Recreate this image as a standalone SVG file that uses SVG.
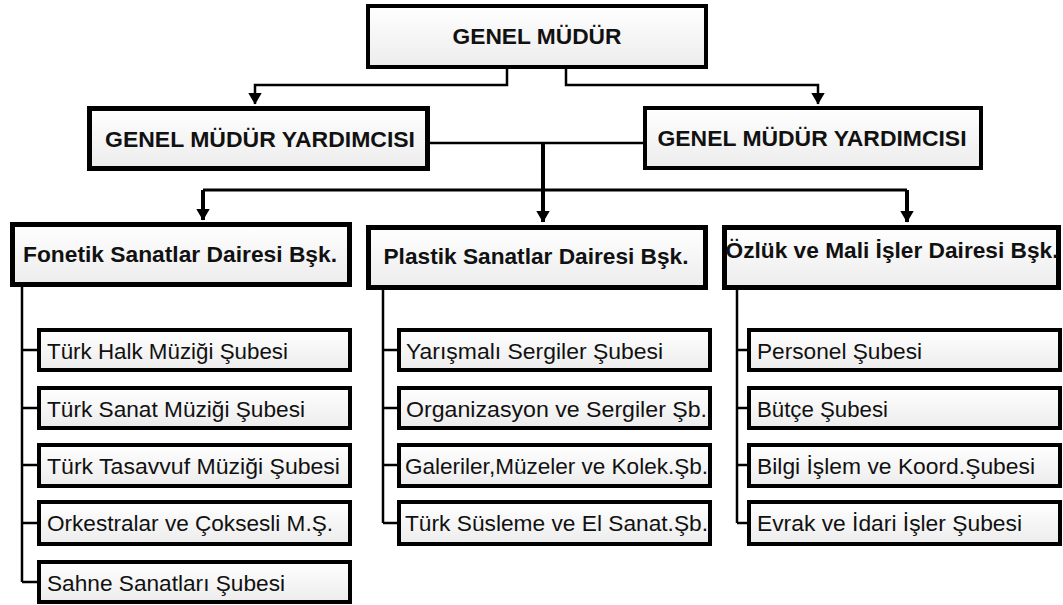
<svg xmlns="http://www.w3.org/2000/svg" width="1063" height="605" viewBox="0 0 1063 605">
<style>
.box{fill:url(#g);stroke:#000;stroke-width:4}
.sub{fill:url(#g);stroke:#000;stroke-width:4}
.h{font-family:"Liberation Sans",Arial,sans-serif;font-weight:bold;font-size:22px;fill:#111;text-anchor:middle}
.t{font-family:"Liberation Sans",Arial,sans-serif;font-size:22px;fill:#111}
.c{fill:none;stroke:#000;stroke-width:2.5}
.ct{fill:none;stroke:#000;stroke-width:4}
</style>
<defs>
<linearGradient id="g" x1="0" y1="0" x2="0" y2="1">
<stop offset="0" stop-color="#ffffff"/>
<stop offset="1" stop-color="#ececec"/>
</linearGradient>
<marker id="ar" markerUnits="userSpaceOnUse" markerWidth="15" markerHeight="12" refX="7.5" refY="11.5" orient="0" viewBox="0 0 15 12">
<path d="M0.5,0 L14.5,0 L7.5,12 Z" fill="#000"/>
</marker>
</defs>
<rect width="1063" height="605" fill="#fff"/>
<g id="connectors">
<path class="c" d="M507,69 V85 H255 V104" marker-end="url(#ar)"/>
<path class="c" d="M566,69 V85 H818 V104" marker-end="url(#ar)"/>
<path class="c" d="M430,143 H643"/>
<path class="ct" d="M543,143 V222" marker-end="url(#ar)"/>
<path class="c" style="stroke-width:3" d="M203,190 H907"/>
<path class="ct" d="M203,190 V220" marker-end="url(#ar)"/>
<path class="ct" d="M907,190 V222" marker-end="url(#ar)"/>
<path class="c" d="M22,287 V582 M22,350 H37 M22,408 H37 M22,465 H37 M22,523 H37 M22,582 H37"/>
<path class="c" d="M383,290 V523 M383,350 H397 M383,408 H397 M383,465 H397 M383,523 H397"/>
<path class="c" d="M737,290 V523 M737,350 H747 M737,408 H747 M737,465 H747 M737,523 H747"/>
</g>
<g id="n-gm"><rect class="box" x="368" y="6" width="338" height="61"/><text class="h" x="537" y="44" textLength="169" lengthAdjust="spacingAndGlyphs">GENEL MÜDÜR</text></g>
<g id="n-gmy1"><rect class="box" style="stroke-width:5" x="89.5" y="108.5" width="338" height="60"/><text class="h" x="260" y="147" textLength="310" lengthAdjust="spacingAndGlyphs">GENEL MÜDÜR YARDIMCISI</text></g>
<g id="n-gmy2"><rect class="box" x="645" y="108" width="336" height="60"/><text class="h" x="812" y="146" textLength="309" lengthAdjust="spacingAndGlyphs">GENEL MÜDÜR YARDIMCISI</text></g>
<g id="n-fonetik"><rect class="box" style="stroke-width:5" x="12.5" y="224.5" width="337" height="60"/><text class="h" x="180" y="262" textLength="314" lengthAdjust="spacingAndGlyphs">Fonetik Sanatlar Dairesi Bşk.</text></g>
<g id="n-plastik"><rect class="box" style="stroke-width:5" x="368.5" y="227.5" width="337" height="60"/><text class="h" x="536" y="264" textLength="305" lengthAdjust="spacingAndGlyphs">Plastik Sanatlar Dairesi Bşk.</text></g>
<g id="n-ozluk"><rect class="box" style="stroke-width:5" x="724.5" y="227.5" width="334" height="60"/><text class="h" x="892" y="258" textLength="333" lengthAdjust="spacingAndGlyphs">Özlük ve Mali İşler Dairesi Bşk.</text></g>
<g id="n-f1"><rect class="sub" x="39" y="330" width="311" height="40"/><text class="t" x="47" y="359" textLength="241" lengthAdjust="spacingAndGlyphs">Türk Halk Müziği Şubesi</text></g>
<g id="n-f2"><rect class="sub" x="39" y="388" width="311" height="40"/><text class="t" x="47" y="417" textLength="258" lengthAdjust="spacingAndGlyphs">Türk Sanat Müziği Şubesi</text></g>
<g id="n-f3"><rect class="sub" x="39" y="445" width="311" height="41"/><text class="t" x="47" y="474" textLength="293" lengthAdjust="spacingAndGlyphs">Türk Tasavvuf Müziği Şubesi</text></g>
<g id="n-f4"><rect class="sub" x="39" y="502" width="311" height="42"/><text class="t" x="47" y="531" textLength="286" lengthAdjust="spacingAndGlyphs">Orkestralar ve Çoksesli M.Ş.</text></g>
<g id="n-f5"><rect class="sub" x="39" y="562" width="311" height="40"/><text class="t" x="47" y="591" textLength="238" lengthAdjust="spacingAndGlyphs">Sahne Sanatları Şubesi</text></g>
<g id="n-p1"><rect class="sub" x="399" y="330" width="311" height="40"/><text class="t" x="406" y="359" textLength="257" lengthAdjust="spacingAndGlyphs">Yarışmalı Sergiler Şubesi</text></g>
<g id="n-p2"><rect class="sub" x="399" y="388" width="311" height="40"/><text class="t" x="406" y="417" textLength="301" lengthAdjust="spacingAndGlyphs">Organizasyon ve Sergiler Şb.</text></g>
<g id="n-p3"><rect class="sub" x="399" y="445" width="311" height="41"/><text class="t" x="405" y="474" textLength="303" lengthAdjust="spacingAndGlyphs">Galeriler,Müzeler ve Kolek.Şb.</text></g>
<g id="n-p4"><rect class="sub" x="399" y="502" width="311" height="42"/><text class="t" x="405" y="531" textLength="303" lengthAdjust="spacingAndGlyphs">Türk Süsleme ve El Sanat.Şb.</text></g>
<g id="n-o1"><rect class="sub" x="749" y="330" width="311" height="40"/><text class="t" x="757" y="359" textLength="165" lengthAdjust="spacingAndGlyphs">Personel Şubesi</text></g>
<g id="n-o2"><rect class="sub" x="749" y="388" width="311" height="40"/><text class="t" x="757" y="417" textLength="131" lengthAdjust="spacingAndGlyphs">Bütçe Şubesi</text></g>
<g id="n-o3"><rect class="sub" x="749" y="445" width="311" height="41"/><text class="t" x="757" y="474" textLength="278" lengthAdjust="spacingAndGlyphs">Bilgi İşlem ve Koord.Şubesi</text></g>
<g id="n-o4"><rect class="sub" x="749" y="502" width="311" height="42"/><text class="t" x="757" y="531" textLength="265" lengthAdjust="spacingAndGlyphs">Evrak ve İdari İşler Şubesi</text></g>
</svg>
